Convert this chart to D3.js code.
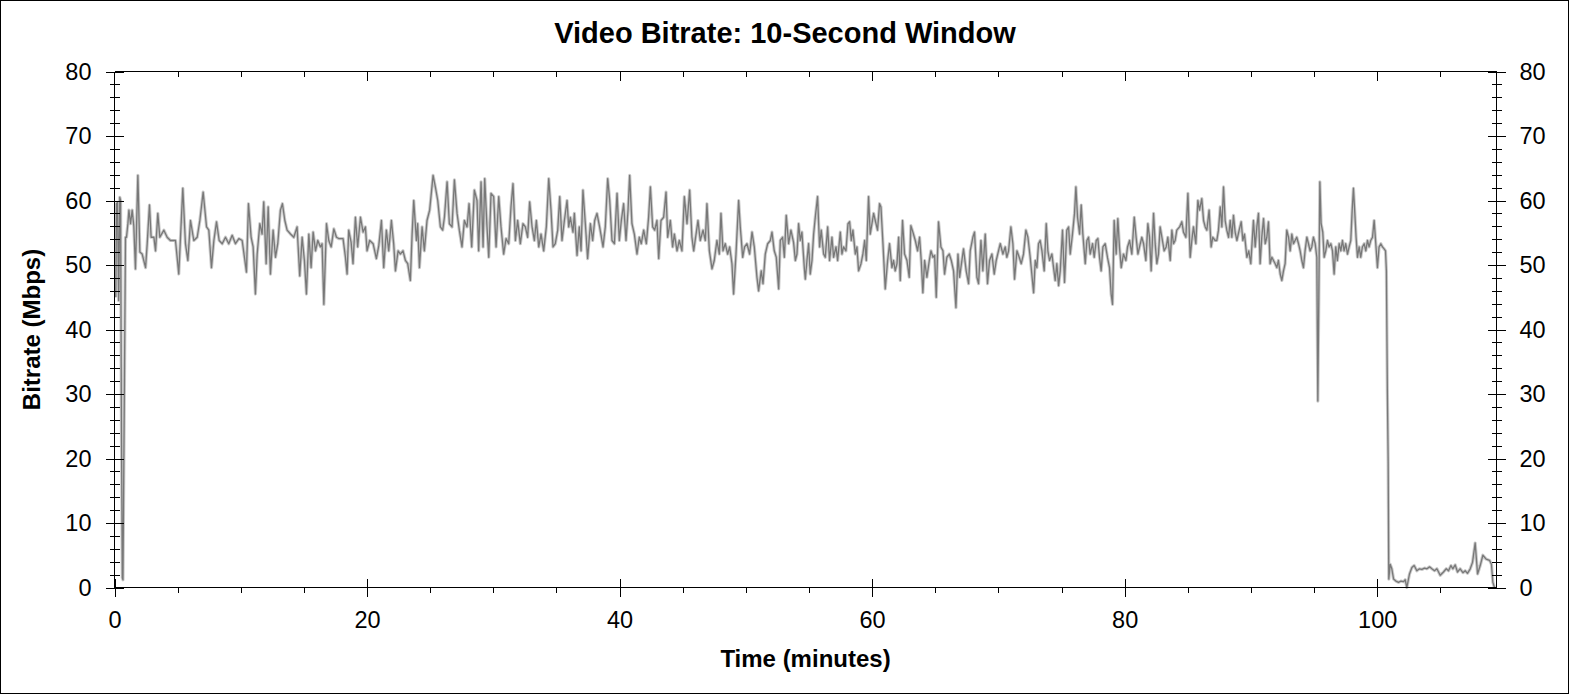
<!DOCTYPE html>
<html>
<head>
<meta charset="utf-8">
<script src="https://cdn.jsdelivr.net/npm/d3@7"></script>
<style>
  body { margin: 0; background: #fff; }
  svg { display: block; }
  text { font-family: Arial, "Liberation Sans", sans-serif; fill: #000; }
</style>
</head>
<body>
<svg id="chart"></svg>
<script>
// labels and ticks
const chartTitle = "Video Bitrate: 10-Second Window";
const xTitle = "Time (minutes)";
const yTitle = "Bitrate (Mbps)";
const xTicks = [0, 20, 40, 60, 80, 100];
const xMinorTicks = [5, 10, 15, 25, 30, 35, 45, 50, 55, 65, 70, 75, 85, 90, 95, 105];
const yTicks = [0, 10, 20, 30, 40, 50, 60, 70, 80];
const yMinorTicks = [2, 4, 6, 8, 12, 14, 16, 18, 22, 24, 26, 28, 32, 34, 36, 38, 42, 44, 46, 48,
  52, 54, 56, 58, 62, 64, 66, 68, 72, 74, 76, 78];

// bitrate samples: [minute, Mbps]
const segStart = [[0.10,45.0],[0.16,59.5],[0.24,59.7],[0.33,44.5],[0.42,60.5],[0.48,60.0],[0.55,24.8],
  [0.62,1.5],[0.67,1.2],[0.79,32.5],[0.87,54.3]];

const seg0to18 = [[0.95,54.3],[1.06,56.4],[1.14,58.5],[1.27,56.4],[1.4,58.5],[1.53,56.0],[1.66,49.4],[1.85,63.9],
  [2.01,52.0],[2.19,51.7],[2.46,49.6],[2.59,53.3],[2.77,59.3],[2.9,54.3],[3.12,54.3],[3.25,52.2],[3.43,58.0],
  [3.59,54.3],[3.91,55.4],[4.17,54.3],[4.43,53.8],[4.83,53.8],[5.09,48.6],[5.41,61.9],[5.62,53.3],[5.81,50.7],
  [6.02,56.9],[6.28,53.8],[6.55,54.3],[6.76,56.9],[7.02,61.3],[7.29,55.9],[7.47,55.4],[7.68,49.6],[7.87,53.8],
  [8.08,56.7],[8.29,53.8],[8.53,53.3],[8.79,54.3],[9.05,53.3],[9.32,54.6],[9.58,53.3],[9.85,54.1],[10.11,53.8],
  [10.45,48.9],[10.61,59.5],[10.82,54.3],[10.98,52.8],[11.16,45.5],[11.3,51.7],[11.51,56.4],[11.69,54.8],
  [11.82,59.8],[12.01,50.2],[12.17,59.0],[12.35,48.6],[12.56,55.4],[12.75,51.2],[12.93,53.3],[13.14,58.5],
  [13.3,59.5],[13.49,56.9],[13.67,55.4],[13.94,54.8],[14.2,54.3],[14.46,55.9],[14.67,48.3],[14.86,54.3],
  [15.04,50.7],[15.2,45.5],[15.39,54.8],[15.57,49.6],[15.73,55.1],[15.92,52.2],[16.1,53.8],[16.31,52.8],
  [16.44,53.3],[16.58,43.9],[16.79,56.4],[16.97,53.8],[17.16,52.8],[17.37,55.6],[17.58,54.3],[17.76,54.1]];

const seg18to36 = [[18.10,54.1],[18.29,51.2],[18.42,48.6],[18.55,55.4],[18.74,53.5],[18.89,50.2],[19.08,57.4],
  [19.26,52.8],[19.48,57.4],[19.69,55.1],[19.87,55.9],[20.00,52.2],[20.21,53.8],[20.48,53.3],[20.74,51.0],
  [20.93,53.0],[21.14,56.9],[21.32,49.6],[21.53,55.4],[21.72,52.2],[21.93,56.9],[22.11,53.3],[22.25,49.1],
  [22.46,52.2],[22.64,51.7],[22.85,52.2],[23.04,50.7],[23.22,50.2],[23.43,47.6],[23.57,54.8],[23.70,60.0],
  [23.91,53.8],[24.01,56.4],[24.15,49.6],[24.36,55.9],[24.54,52.2],[24.75,56.9],[24.96,58.5],[25.23,63.9],
  [25.41,62.1],[25.60,60.0],[25.81,55.9],[25.99,55.4],[26.13,57.4],[26.34,62.9],[26.52,56.4],[26.73,55.9],
  [26.92,63.2],[27.13,58.0],[27.31,55.4],[27.52,52.8],[27.71,56.9],[27.92,55.9],[28.08,59.5],[28.29,52.8],
  [28.50,61.6],[28.71,60.0],[28.84,52.2],[29.03,62.9],[29.19,52.8],[29.32,63.4],[29.50,55.9],[29.64,51.2],
  [29.82,61.1],[30.03,60.6],[30.22,52.8],[30.43,60.6],[30.61,55.9],[30.82,51.7],[31.01,54.1],[31.22,53.3],
  [31.40,59.0],[31.56,62.6],[31.75,53.8],[31.93,56.9],[32.14,53.3],[32.35,56.4],[32.54,55.9],[32.72,54.3],
  [32.88,59.8],[33.07,55.9],[33.25,53.8],[33.41,56.9],[33.60,52.8],[33.78,54.8],[33.99,52.2],[34.20,55.9],
  [34.39,63.4],[34.57,58.5],[34.73,52.8],[34.91,53.3],[35.10,55.4],[35.26,60.6],[35.44,53.8]];

const seg36to54 = [[35.63,56.9],[35.84,60.0],[35.97,55.9],[36.10,57.4],[36.31,55.1],[36.42,58.0],[36.63,51.5],
  [36.81,55.9],[36.95,52.2],[37.10,61.6],[37.29,56.4],[37.47,51.0],[37.69,56.4],[37.87,53.8],[38.03,56.9],
  [38.21,58.0],[38.42,55.9],[38.69,52.8],[38.87,55.9],[39.06,63.4],[39.22,60.0],[39.40,53.8],[39.59,53.3],
  [39.80,61.1],[39.98,53.8],[40.14,56.9],[40.32,59.5],[40.51,53.8],[40.67,58.5],[40.80,63.9],[40.98,56.4],
  [41.17,54.8],[41.38,51.7],[41.56,54.3],[41.72,53.3],[41.91,55.4],[42.12,53.3],[42.30,57.4],[42.44,62.1],
  [42.62,55.9],[42.78,55.4],[42.96,56.9],[43.10,51.0],[43.28,56.9],[43.49,57.4],[43.68,61.3],[43.81,54.3],
  [44.02,56.9],[44.20,52.8],[44.34,54.8],[44.55,52.2],[44.73,53.8],[44.94,52.2],[45.13,60.6],[45.34,56.4],
  [45.55,61.6],[45.73,54.3],[45.87,52.2],[46.08,55.1],[46.21,56.9],[46.39,53.8],[46.61,55.4],[46.79,53.8],
  [46.92,59.5],[47.11,52.2],[47.32,49.4],[47.50,50.7],[47.71,53.8],[47.90,51.7],[48.03,58.0],[48.19,52.2],
  [48.37,53.3],[48.56,51.7],[48.72,52.8],[48.90,50.2],[49.03,45.5],[49.22,51.7],[49.43,60.0],[49.56,55.9],
  [49.75,51.2],[49.90,52.8],[50.09,53.3],[50.30,51.7],[50.49,55.1],[50.67,52.8],[50.88,48.1],[51.01,46.0],
  [51.22,49.1],[51.36,47.1],[51.54,51.7],[51.73,53.3],[51.94,53.8],[52.07,55.1],[52.25,52.2],[52.41,51.2],
  [52.60,46.3],[52.73,53.8],[52.91,54.3],[53.05,51.2],[53.20,57.7],[53.39,53.3],[53.57,55.4]];

const seg54to72 = [[53.78,53.5],[53.92,50.7],[54.05,51.7],[54.18,56.4],[54.31,53.8],[54.44,55.1],[54.63,49.6],
  [54.71,47.8],[54.84,50.7],[54.97,53.3],[55.10,48.6],[55.24,50.7],[55.37,54.8],[55.50,57.4],[55.68,60.6],
  [55.84,52.8],[55.97,55.4],[56.16,51.7],[56.29,51.2],[56.48,55.9],[56.63,50.7],[56.82,54.3],[56.95,51.2],
  [57.14,52.8],[57.27,50.7],[57.48,55.1],[57.61,51.7],[57.74,52.8],[57.93,52.2],[58.09,56.4],[58.22,56.7],
  [58.35,53.8],[58.48,55.4],[58.67,51.7],[58.80,52.8],[58.93,49.1],[59.12,50.2],[59.27,51.7],[59.41,53.8],
  [59.54,50.7],[59.72,60.6],[59.85,54.8],[59.99,56.4],[60.12,58.0],[60.25,56.9],[60.43,55.4],[60.59,59.5],
  [60.70,59.0],[60.86,53.3],[61.04,46.3],[61.23,50.7],[61.38,53.3],[61.57,49.6],[61.70,50.7],[61.83,49.1],
  [61.97,50.2],[62.10,54.3],[62.23,47.6],[62.41,56.9],[62.57,51.7],[62.76,50.7],[62.94,48.1],[63.07,56.1],
  [63.23,55.1],[63.42,53.8],[63.60,52.2],[63.76,54.3],[63.89,50.7],[64.02,45.7],[64.16,50.7],[64.34,48.1],
  [64.53,50.7],[64.66,52.2],[64.82,51.2],[64.95,51.5],[65.08,45.0],[65.26,56.7],[65.45,52.8],[65.61,52.2],
  [65.74,48.6],[65.92,51.2],[66.11,51.7],[66.27,50.7],[66.45,49.1],[66.64,43.4],[66.80,51.7],[66.93,48.1],
  [67.11,50.7],[67.24,52.5],[67.45,49.1],[67.64,47.1],[67.77,52.2],[67.98,54.3],[68.11,55.1],[68.30,48.1],
  [68.43,47.1],[68.62,53.8],[68.77,49.1],[68.96,54.8],[69.14,47.1],[69.30,50.7],[69.49,51.7],[69.67,48.6],
  [69.83,50.7],[70.01,52.2],[70.15,53.3],[70.36,51.7],[70.54,52.8],[70.67,51.2],[70.81,52.2],[70.99,55.9],
  [71.15,53.3],[71.28,47.8],[71.47,52.2],[71.65,51.2],[71.81,50.2],[71.99,51.7],[72.18,55.4],[72.34,54.3],
  [72.52,51.2]];

const seg72to90 = [[72.79,45.7],[72.92,50.7],[73.05,49.6],[73.18,53.3],[73.31,53.8],[73.45,52.2],[73.63,49.1],
  [73.79,56.4],[73.92,52.2],[74.05,50.7],[74.24,51.7],[74.37,49.6],[74.50,47.6],[74.63,50.2],[74.77,46.8],
  [74.90,49.1],[75.08,55.4],[75.24,47.3],[75.42,55.4],[75.56,55.9],[75.69,51.7],[75.87,54.8],[76.03,58.0],
  [76.14,62.1],[76.27,57.4],[76.43,54.8],[76.56,59.3],[76.69,54.8],[76.88,50.2],[77.01,53.8],[77.14,54.3],
  [77.27,51.7],[77.46,53.3],[77.59,51.2],[77.75,53.8],[77.88,54.1],[78.01,51.2],[78.14,49.1],[78.28,52.8],
  [78.46,53.3],[78.64,51.2],[78.80,49.6],[78.93,45.5],[79.04,43.9],[79.17,56.9],[79.33,51.7],[79.46,57.2],
  [79.59,52.8],[79.73,49.6],[79.91,51.7],[80.10,50.7],[80.23,52.8],[80.39,53.8],[80.57,51.7],[80.76,57.4],
  [80.91,54.3],[81.05,51.7],[81.18,52.8],[81.36,54.3],[81.50,53.3],[81.68,50.7],[81.84,56.4],[81.97,54.3],
  [82.10,49.1],[82.29,58.0],[82.42,53.3],[82.55,50.2],[82.68,51.7],[82.81,55.9],[82.95,54.3],[83.13,52.2],
  [83.29,52.8],[83.42,54.3],[83.61,50.7],[83.74,55.4],[83.87,53.3],[84.00,53.8],[84.13,55.4],[84.35,55.9],
  [84.53,56.7],[84.66,55.1],[84.85,54.3],[85.01,61.1],[85.19,51.2],[85.32,53.8],[85.45,55.9],[85.64,53.3],
  [85.80,60.0],[85.93,58.5],[86.11,60.3],[86.25,56.9],[86.38,55.9],[86.51,55.4],[86.69,58.5],[86.85,52.8],
  [86.98,54.3],[87.17,53.8],[87.30,53.8],[87.43,55.4],[87.57,59.0],[87.70,55.9],[87.83,62.1],[87.96,56.9],
  [88.09,55.4],[88.23,54.3],[88.36,56.9],[88.49,54.3],[88.62,57.7],[88.75,55.1],[88.89,53.8],[89.07,55.4],
  [89.23,56.7],[89.36,53.8],[89.49,54.8],[89.68,51.2],[89.83,52.2],[89.99,50.2]];

const seg90to101 = [[90.20,56.9],[90.34,52.8],[90.47,55.9],[90.60,58.0],[90.73,50.2],[90.86,54.3],[91.00,57.2],
  [91.13,53.3],[91.26,54.3],[91.39,56.7],[91.52,50.2],[91.66,51.2],[91.79,50.7],[91.92,50.2],[92.05,49.6],
  [92.18,50.7],[92.32,48.6],[92.45,47.6],[92.58,49.1],[92.71,50.2],[92.84,55.4],[92.98,54.3],[93.11,52.2],
  [93.24,54.8],[93.37,53.3],[93.50,53.8],[93.63,54.3],[93.77,53.3],[93.90,52.2],[94.03,50.7],[94.16,49.6],
  [94.29,52.2],[94.43,54.3],[94.56,53.3],[94.69,52.2],[94.82,52.8],[94.95,54.3],[95.09,53.3],[95.22,51.2],
  [95.30,28.9],[95.38,45.5],[95.46,62.9],[95.56,56.4],[95.69,55.1],[95.80,51.2],[95.93,52.2],[96.06,53.8],
  [96.19,52.8],[96.33,53.3],[96.46,52.2],[96.59,48.6],[96.72,52.8],[96.85,50.7],[96.99,53.3],[97.12,52.2],
  [97.25,53.8],[97.38,52.2],[97.51,53.3],[97.65,51.7],[97.78,52.8],[97.91,53.8],[98.02,58.5],[98.12,61.9],
  [98.23,58.0],[98.33,54.3],[98.44,51.2],[98.57,52.8],[98.70,51.2],[98.83,52.8],[98.97,53.3],[99.10,52.2],
  [99.23,53.8],[99.36,52.8],[99.49,53.8],[99.63,54.3],[99.76,56.9],[99.89,53.3],[100.02,49.6],[100.15,52.8],
  [100.29,53.3],[100.42,52.8],[100.55,52.5],[100.66,52.2],[100.73,49.1],[100.81,29.9],[100.87,19.5],
  [100.92,1.3]];

const segTail = [[101.03,3.6],[101.16,2.9],[101.30,1.3],[101.48,1.0],[101.69,0.8],[101.88,1.0],[102.09,0.9],
  [102.22,1.2],[102.35,0.0],[102.56,2.1],[102.75,3.1],[102.93,3.4],[103.14,2.6],[103.35,2.9],[103.54,2.8],
  [103.75,3.0],[103.94,2.9],[104.15,3.2],[104.33,2.9],[104.54,2.6],[104.73,2.9],[104.99,1.9],[105.25,2.4],
  [105.47,2.9],[105.65,2.6],[105.84,3.4],[105.99,2.9],[106.18,3.5],[106.36,2.4],[106.57,2.9],[106.79,2.3],
  [106.97,2.6],[107.15,2.2],[107.37,2.9],[107.55,3.9],[107.76,6.9],[107.95,2.1],[108.16,3.4],[108.37,5.0],
  [108.63,4.4],[108.90,4.2],[109.05,3.6],[109.16,0.8],[109.29,0.0]];

const bitrate = [].concat(segStart, seg0to18, seg18to36, seg36to54, seg54to72, seg72to90, seg90to101, segTail);

// set the dimensions of the diagram
const width = 1570, height = 695;
const plotLeft = 114.5, plotRight = 1496.5, plotTop = 71.5, plotBottom = 587.5;

const svg = d3.select("#chart")
  .attr("width", width)
  .attr("height", height);

// outer border
svg.append("rect")
  .attr("x", 0.5).attr("y", 0.5)
  .attr("width", width - 2).attr("height", height - 2)
  .attr("fill", "#fff").attr("stroke", "#000");

const x = d3.scaleLinear().domain([0, 109.45]).range([plotLeft, plotRight]);
const y = d3.scaleLinear().domain([0, 80]).range([plotBottom, plotTop]);

// the bitrate line: light halo first, then the grey trace
const line = d3.line()
  .x(d => x(d[0]))
  .y(d => y(d[1]));

svg.append("path")
  .datum(bitrate)
  .attr("d", line)
  .attr("fill", "none")
  .attr("stroke", "#cbcbcb")
  .attr("stroke-width", 3.2)
  .attr("stroke-linejoin", "round");

svg.append("path")
  .datum(bitrate)
  .attr("d", line)
  .attr("fill", "none")
  .attr("stroke", "#787878")
  .attr("stroke-width", 1.3)
  .attr("stroke-linejoin", "round");

// frame
const frame = svg.append("g").attr("stroke", "#000").attr("shape-rendering", "crispEdges");
frame.append("line").attr("x1", plotLeft).attr("x2", plotRight).attr("y1", plotTop).attr("y2", plotTop);
frame.append("line").attr("x1", plotLeft).attr("x2", plotRight).attr("y1", plotBottom).attr("y2", plotBottom);
frame.append("line").attr("x1", plotLeft).attr("x2", plotLeft).attr("y1", plotTop).attr("y2", plotBottom);
frame.append("line").attr("x1", plotRight).attr("x2", plotRight).attr("y1", plotTop).attr("y2", plotBottom);

function styleAxis(g, size) {
  g.select(".domain").remove();
  g.selectAll(".tick line").attr("stroke", "#000").attr("shape-rendering", "crispEdges");
  g.selectAll(".tick text")
    .attr("font-size", size)
    .attr("font-family", "Arial, 'Liberation Sans', sans-serif")
    .attr("fill", "#000");
}

// left axis
const yLeft = svg.append("g")
  .attr("transform", "translate(" + plotLeft + ",0)")
  .call(d3.axisLeft(y).tickValues(yTicks).tickSize(9).tickPadding(14));
styleAxis(yLeft, 23.5);
yLeft.selectAll(".tick line").attr("x1", 9);

const yLeftMinor = svg.append("g")
  .attr("transform", "translate(" + plotLeft + ",0)")
  .call(d3.axisLeft(y).tickValues(yMinorTicks).tickSize(5).tickFormat(""));
styleAxis(yLeftMinor, 0);
yLeftMinor.selectAll(".tick line").attr("x1", 5);

// right axis
const yRight = svg.append("g")
  .attr("transform", "translate(" + plotRight + ",0)")
  .call(d3.axisRight(y).tickValues(yTicks).tickSize(9).tickPadding(14));
styleAxis(yRight, 23.5);
yRight.selectAll(".tick line").attr("x1", -9);

const yRightMinor = svg.append("g")
  .attr("transform", "translate(" + plotRight + ",0)")
  .call(d3.axisRight(y).tickValues(yMinorTicks).tickSize(5).tickFormat(""));
styleAxis(yRightMinor, 0);
yRightMinor.selectAll(".tick line").attr("x1", -5);

// bottom axis
const xBottom = svg.append("g")
  .attr("transform", "translate(0," + plotBottom + ")")
  .call(d3.axisBottom(x).tickValues(xTicks).tickSize(9).tickPadding(15));
styleAxis(xBottom, 23.5);
xBottom.selectAll(".tick line").attr("y1", -9);

const xBottomMinor = svg.append("g")
  .attr("transform", "translate(0," + plotBottom + ")")
  .call(d3.axisBottom(x).tickValues(xMinorTicks).tickSize(5).tickFormat(""));
styleAxis(xBottomMinor, 0);

// top axis, ticks pointing into the plot
const xTop = svg.append("g")
  .attr("transform", "translate(0," + plotTop + ")")
  .call(d3.axisBottom(x).tickValues(xTicks.slice(1)).tickSize(9).tickFormat(""));
styleAxis(xTop, 0);

const xTopMinor = svg.append("g")
  .attr("transform", "translate(0," + plotTop + ")")
  .call(d3.axisBottom(x).tickValues(xMinorTicks).tickSize(5).tickFormat(""));
styleAxis(xTopMinor, 0);

// titles
svg.append("text")
  .attr("x", width / 2)
  .attr("y", 43)
  .attr("text-anchor", "middle")
  .attr("font-size", 29)
  .attr("font-weight", "bold")
  .text(chartTitle);

svg.append("text")
  .attr("x", (plotLeft + plotRight) / 2)
  .attr("y", 667)
  .attr("text-anchor", "middle")
  .attr("font-size", 24)
  .attr("font-weight", "bold")
  .text(xTitle);

svg.append("text")
  .attr("transform", "translate(40," + (plotTop + plotBottom) / 2 + ") rotate(-90)")
  .attr("text-anchor", "middle")
  .attr("font-size", 24)
  .attr("font-weight", "bold")
  .text(yTitle);
</script>
</body>
</html>
